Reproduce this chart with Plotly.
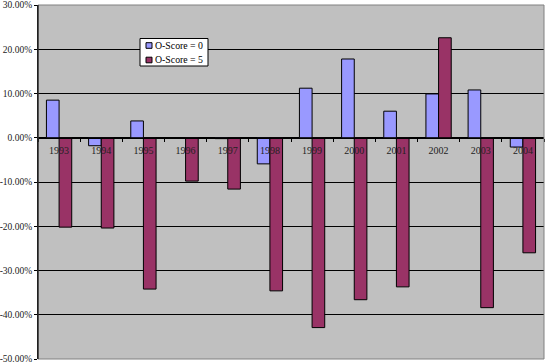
import plotly.graph_objects as go

years = ["1993", "1994", "1995", "1996", "1997", "1998", "1999", "2000", "2001", "2002", "2003", "2004"]
oscore0 = [8.5, -1.8, 3.8, 0.0, -0.2, -5.9, 11.2, 17.8, 6.0, 9.9, 10.8, -2.1]
oscore5 = [-20.2, -20.4, -34.2, -9.8, -11.6, -34.6, -42.9, -36.6, -33.7, 22.6, -38.4, -26.0]
series_names = ["O-Score = 0", "O-Score = 5"]
series_colors = ["#9999FF", "#993366"]
ytick_vals = [30, 20, 10, 0, -10, -20, -30, -40, -50]
ytick_text = ["30.00%", "20.00%", "10.00%", "0.00%", "-10.00%", "-20.00%", "-30.00%", "-40.00%", "-50.00%"]

FONT = "Liberation Serif, Times New Roman, serif"

fig = go.Figure()
for name, vals, col in zip(series_names, [oscore0, oscore5], series_colors):
    fig.add_trace(go.Bar(x=years, y=vals, name=name,
                         marker=dict(color=col, line=dict(color="black", width=1))))

y0, y1 = -50, 30
zero_pos = (0 - y0) / (y1 - y0)

W, H = 550, 363
ML, MR, MT, MB = 38, 6, 5, 4
PW, PH = W - ML - MR, H - MT - MB


def px(x):
    return (x - ML) / PW


def py(y):
    return (H - MB - y) / PH


shapes = [
    dict(type="rect", xref="paper", yref="paper", x0=0, x1=1, y0=0, y1=1,
         line=dict(color="#808080", width=1), layer="above"),
    dict(type="line", xref="paper", yref="paper", x0=0, x1=0, y0=0, y1=1,
         line=dict(color="black", width=1), layer="above"),
    # legend box
    dict(type="rect", xref="paper", yref="paper", x0=px(140), x1=px(208), y0=py(66), y1=py(38.5),
         fillcolor="white", line=dict(color="black", width=1), layer="above"),
]
annotations = []
for i, (name, col) in enumerate(zip(series_names, series_colors)):
    cy = 45.5 + i * 14.5
    shapes.append(dict(type="rect", xref="paper", yref="paper",
                       x0=px(146), x1=px(152), y0=py(cy + 2.8), y1=py(cy - 2.8),
                       fillcolor=col, line=dict(color="black", width=1), layer="above"))
    annotations.append(dict(xref="paper", yref="paper", x=px(152.5), y=py(cy),
                            xanchor="left", yanchor="middle", showarrow=False,
                            text=name, font=dict(family=FONT, size=9.8, color="black")))

fig.update_layout(
    width=W, height=H,
    margin=dict(l=ML, r=MR, t=MT, b=MB, autoexpand=False),
    paper_bgcolor="white",
    plot_bgcolor="#C0C0C0",
    barmode="group",
    bargap=0.4,
    bargroupgap=0,
    font=dict(family=FONT, size=10, color="#222222"),
    showlegend=False,
    xaxis=dict(type="category", anchor="free", position=zero_pos, automargin=False,
               showline=True, linecolor="black", linewidth=1,
               ticks="outside", ticklen=3, tickcolor="black",
               tickson="boundaries", showgrid=False, ticklabelstandoff=3,
               tickfont=dict(family=FONT, size=10, color="#222222")),
    yaxis=dict(range=[y0, y1], tickvals=ytick_vals, ticktext=ytick_text, automargin=False,
               ticklabeloverflow="allow",
               showgrid=True, gridcolor="black", gridwidth=1,
               zeroline=True, zerolinecolor="black", zerolinewidth=1,
               showline=True, linecolor="black", linewidth=1,
               ticks="outside", ticklen=3, tickcolor="black",
               tickfont=dict(family=FONT, size=9.5, color="#222222")),
    shapes=shapes,
    annotations=annotations,
)

fig.write_html("out.html", config={"displayModeBar": False})

# remove the browser's default body margin so the figure sits at the page corner
with open("out.html", "r", encoding="utf-8") as f:
    html = f.read()
html = html.replace("<head>", "<head><style>html,body{margin:0;padding:0;overflow:hidden;}</style>", 1)
with open("out.html", "w", encoding="utf-8") as f:
    f.write(html)
